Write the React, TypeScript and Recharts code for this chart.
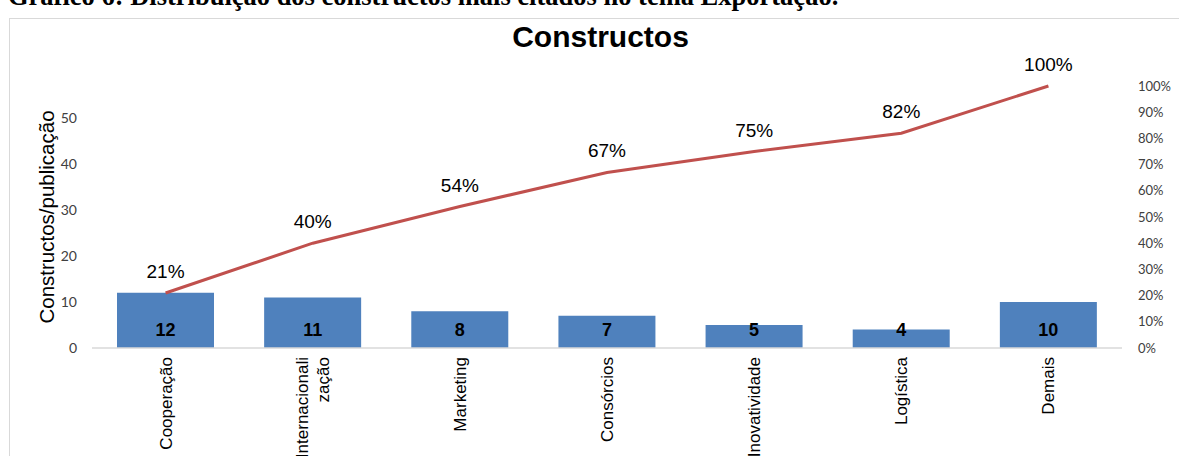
import React from "react";
import {
  ComposedChart,
  Bar,
  Line,
  XAxis,
  YAxis,
  LabelList,
  Label,
} from "recharts";

const categories = [
  "Cooperação",
  "Internacionali\nzação",
  "Marketing",
  "Consórcios",
  "Inovatividade",
  "Logística",
  "Demais",
];
const counts = [12, 11, 8, 7, 5, 4, 10];
const cumulative = [21, 40, 54, 67, 75, 82, 100];
const leftTicks = [0, 10, 20, 30, 40, 50];
const rightTicks = [0, 10, 20, 30, 40, 50, 60, 70, 80, 90, 100];

const data = categories.map((name, i) => ({
  name,
  count: counts[i],
  cum: cumulative[i],
}));

const total = counts.reduce((a, b) => a + b, 0);

const BAR_COLOR = "#4F81BD";
const LINE_COLOR = "#C0504D";
const axisFont = "Lato, 'Open Sans', sans-serif";
const arial = "'Liberation Sans', Arial, sans-serif";

const CategoryTick = (props: any) => {
  const { x, y, payload } = props;
  const lines = String(payload.value).split("\n");
  const lh = 21;
  return (
    <g transform={`translate(${x},${y})`}>
      <text
        transform="rotate(-90)"
        textAnchor="end"
        fontFamily={arial}
        fontSize={17}
        fill="#000"
      >
        {lines.map((l, i) => (
          <tspan
            key={i}
            x={0}
            dy={i === 0 ? 6 - ((lines.length - 1) / 2) * lh : lh}
          >
            {l}
          </tspan>
        ))}
      </text>
    </g>
  );
};

const BarValue = (props: any) => {
  const { x, y, width, height, value } = props;
  return (
    <text
      x={x + width / 2}
      y={y + height - 18}
      textAnchor="middle"
      dominantBaseline="central"
      fontFamily={arial}
      fontWeight="bold"
      fontSize={18}
      fill="#000"
    >
      {value}
    </text>
  );
};

export default function App() {
  return (
    <div
      style={{
        position: "fixed",
        left: 0,
        top: 0,
        width: 1179,
        height: 456,
        background: "#fff",
        overflow: "hidden",
      }}
    >
      <div
        style={{
          position: "absolute",
          left: 8,
          top: -19,
          fontFamily: "'Liberation Serif', 'Times New Roman', serif",
          fontWeight: "bold",
          fontSize: 26.5,
          whiteSpace: "nowrap",
          color: "#000",
        }}
      >
        Gráfico 6: Distribuição dos constructos mais citados no tema Exportação.
      </div>
      <div
        style={{
          position: "absolute",
          left: 9,
          top: 18,
          width: 1180,
          height: 460,
          border: "1px solid #d9d9d9",
          boxSizing: "border-box",
        }}
      />
      <div
        style={{
          position: "absolute",
          left: 0,
          top: 20,
          width: 1179,
          textAlign: "center",
          paddingLeft: 22,
          boxSizing: "border-box",
          fontFamily: arial,
          fontWeight: "bold",
          fontSize: 30,
          color: "#000",
        }}
      >
        Constructos
      </div>
      <div style={{ position: "absolute", left: 0, top: 0 }}>
        <ComposedChart
          width={1179}
          height={456}
          data={data}
          margin={{ top: 86, right: 0, bottom: 0, left: 0 }}
        >
          <XAxis
            dataKey="name"
            interval={0}
            height={108}
            tickLine={false}
            tickSize={0}
            tickMargin={9}
            axisLine={{ stroke: "#d9d9d9", strokeWidth: 1.5 }}
            tick={<CategoryTick />}
          />
          <YAxis
            yAxisId="left"
            width={92}
            domain={[0, total]}
            ticks={leftTicks}
            allowDataOverflow
            axisLine={false}
            tickLine={false}
            tickSize={0}
            tickMargin={15}
            tick={{ fontSize: 14, fill: "#404040", fontFamily: axisFont }}
          >
            <Label
              value="Constructos/publicação"
              angle={-90}
              position="insideLeft"
              offset={47}
              style={{
                fontSize: 20.5,
                fontFamily: arial,
                fill: "#000",
                textAnchor: "middle",
              }}
            />
          </YAxis>
          <YAxis
            yAxisId="right"
            orientation="right"
            width={57}
            domain={[0, 100]}
            ticks={rightTicks}
            axisLine={false}
            tickLine={false}
            tickSize={0}
            tickMargin={16}
            tickFormatter={(v) => `${v}%`}
            tick={{
              fontSize: 13,
              fill: "#404040",
              fontFamily: axisFont,
              textAnchor: "start",
            }}
          />
          <Bar
            yAxisId="left"
            dataKey="count"
            fill={BAR_COLOR}
            barSize={97}
            isAnimationActive={false}
          >
            <LabelList dataKey="count" content={<BarValue />} />
          </Bar>
          <Line
            yAxisId="right"
            dataKey="cum"
            type="linear"
            stroke={LINE_COLOR}
            strokeWidth={3}
            dot={false}
            activeDot={false}
            isAnimationActive={false}
          >
            <LabelList
              dataKey="cum"
              position="top"
              offset={15}
              formatter={(v: any) => `${v}%`}
              style={{ fontSize: 19, fontFamily: arial, fill: "#000" }}
            />
          </Line>
        </ComposedChart>
      </div>
    </div>
  );
}
